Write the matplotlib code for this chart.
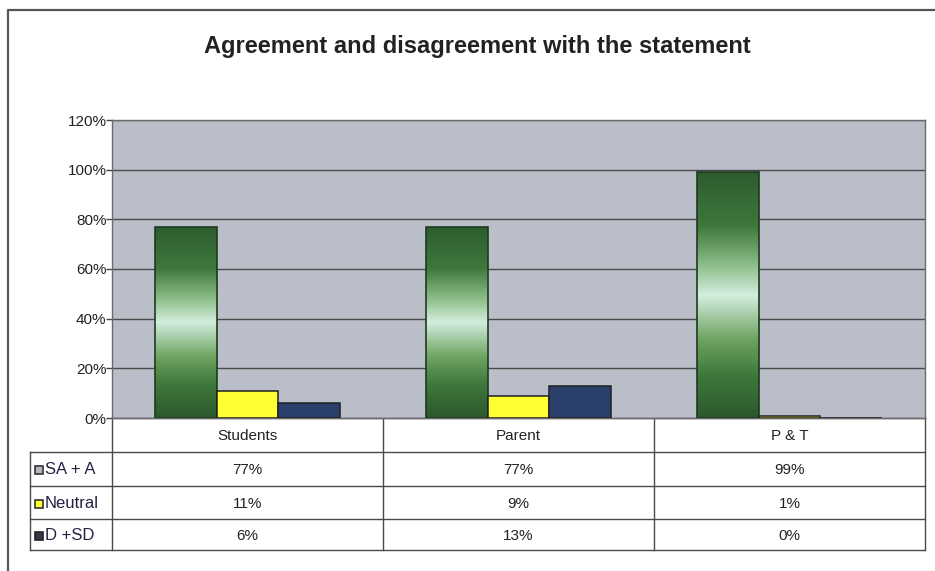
import numpy as np
import matplotlib
matplotlib.use("Agg")
import matplotlib.pyplot as plt
from matplotlib.colors import LinearSegmentedColormap

plt.rcParams['font.family'] = ['Liberation Sans', 'DejaVu Sans']

groups = ["Students", "Parent", "P & T"]
series = ["SA + A", "Neutral", "D +SD"]
sa_a = [77, 77, 99]
neutral = [11, 9, 1]
d_sd = [6, 13, 0]
values = [sa_a, neutral, d_sd]
yticks = [0, 20, 40, 60, 80, 100, 120]

W, H = 935, 571
fig = plt.figure(figsize=(W / 100, H / 100), dpi=100)

# background layer in pixel coordinates: border, title, data table
bg = fig.add_axes([0, 0, 1, 1], zorder=0)
bg.set_xlim(0, W)
bg.set_ylim(H, 0)
bg.axis("off")

# plot area box (pixels)
px0, px1, py0, py1 = 112, 925, 120, 418
ax = fig.add_axes([px0 / W, 1 - py1 / H, (px1 - px0) / W, (py1 - py0) / H], zorder=1)
ax.set_facecolor("#b9bec8")
ax.set_xlim(-0.5, 2.5)
ax.set_ylim(0, 120)
ax.set_yticks(yticks)
ax.set_yticklabels([f"{t}%" for t in yticks], fontsize=11, color="#222222")
ax.set_xticks([])
ax.tick_params(axis="y", length=4, width=1, color="#444444", pad=0)
ax.yaxis.grid(True, color="#4a4a4a", lw=1)
ax.set_axisbelow(True)
for s in ax.spines.values():
    s.set_color("#6a6a6a")
    s.set_linewidth(1)

green_cmap = LinearSegmentedColormap.from_list(
    "bar_green",
    [(0.0, "#2b582c"), (0.18, "#3f7a3c"), (0.32, "#6fa463"),
     (0.5, "#d4eddd"), (0.62, "#8dbf8a"), (0.78, "#3f783d"), (1.0, "#2c5c2e")])

x = np.arange(len(groups))
bw = 0.228
offsets = [-bw, 0, bw]
colors = [None, "#ffff33", "#2b3f6d"]
for k, vals in enumerate(values):
    for i, v in enumerate(vals):
        xc = x[i] + offsets[k]
        if k == 0:
            rect = ax.bar(xc, v, bw, facecolor="none", edgecolor="#1e3a1e",
                          lw=1.2, zorder=3)[0]
            grad = np.linspace(0, 1, 256).reshape(-1, 1)
            im = ax.imshow(grad, cmap=green_cmap, aspect="auto", origin="lower",
                           extent=(xc - bw / 2, xc + bw / 2, 0, v), zorder=2)
            im.set_clip_path(rect)
        else:
            ax.bar(xc, v, bw, color=colors[k], edgecolor="#202020", lw=1.1, zorder=3)
ax.set_xlim(-0.5, 2.5)
ax.set_ylim(0, 120)

# outer chart border
bg.plot([8, 8, W + 5], [H + 5, 9.5, 9.5], color="#555555", lw=1.6)

bg.text(477, 46, "Agreement and disagreement with the statement", ha="center",
        va="center", fontsize=17, fontweight="bold", color="#222222")

# data table under the plot
tx0 = 30
col_edges = [px0 + (px1 - px0) * j / len(groups) for j in range(len(groups) + 1)]
row_edges = [418, 452, 486, 519, 550]
lc = "#4a4a4a"
for yy in row_edges[1:]:
    bg.plot([tx0, px1], [yy, yy], color=lc, lw=1)
bg.plot([px0, px1], [row_edges[0], row_edges[0]], color=lc, lw=1)
bg.plot([tx0, tx0], [row_edges[1], row_edges[-1]], color=lc, lw=1)
for xe in col_edges:
    bg.plot([xe, xe], [row_edges[0], row_edges[-1]], color=lc, lw=1)

for j, g in enumerate(groups):
    xm = (col_edges[j] + col_edges[j + 1]) / 2
    bg.text(xm, (row_edges[0] + row_edges[1]) / 2 + 1, g, ha="center", va="center",
            fontsize=11, color="#222222")
    for k, vals in enumerate(values):
        ym = (row_edges[k + 1] + row_edges[k + 2]) / 2 + 1
        bg.text(xm, ym, f"{vals[j]}%", ha="center", va="center",
                fontsize=11, color="#222222")

key_faces = ["#b4b8bc", "#ffff33", "#333a45"]
key_edges = ["#333333", "#333333", "#222222"]
for k, name in enumerate(series):
    ym = (row_edges[k + 1] + row_edges[k + 2]) / 2 + 1
    bg.plot(38.5, ym, marker="s", ms=6, mfc=key_faces[k], mec=key_edges[k], mew=1.2)
    bg.text(45, ym, name, ha="left", va="center", fontsize=12, color="#222244")

fig.savefig("out.png", dpi=100)
